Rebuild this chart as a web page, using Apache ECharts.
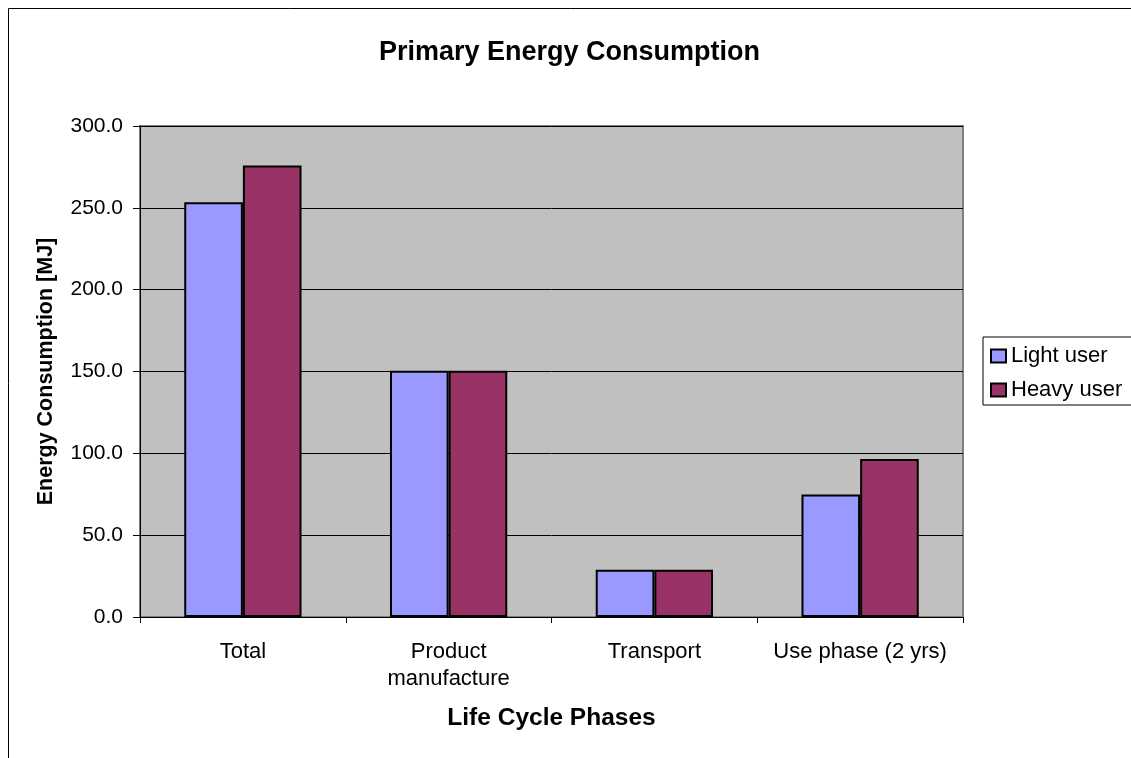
<!DOCTYPE html>
<html>
<head>
<meta charset="utf-8">
<script src="https://cdn.jsdelivr.net/npm/echarts@6/dist/echarts.min.js"></script>
<style>
  html, body { margin: 0; padding: 0; background: #fff; }
  #chart { width: 1131px; height: 758px; }
</style>
</head>
<body>
<div id="chart"></div>
<script>
var phases = ["Total", "Product\nmanufacture", "Transport", "Use phase (2 yrs)"];
var lightUser = [253.4, 150.5, 28.8, 74.8];
var heavyUser = [275.8, 150.5, 28.8, 96.6];
var seriesNames = ["Light user", "Heavy user"];

var chart = echarts.init(document.getElementById("chart"));
var font = "Liberation Sans, Arial, sans-serif";

chart.setOption({
  animation: false,
  backgroundColor: "#fff",
  textStyle: { fontFamily: font },
  graphic: [
    {
      // outer chart frame (cut off at right and bottom)
      type: "rect",
      shape: { x: 8.5, y: 8.5, width: 1200, height: 800 },
      style: { fill: "none", stroke: "#000", lineWidth: 1 },
      silent: true
    }
  ],
  title: {
    text: "Primary Energy Consumption",
    left: 379,
    top: 39,
    padding: 0,
    textStyle: { fontFamily: font, fontSize: 27, fontWeight: "bold", color: "#000" }
  },
  grid: {
    left: 140,
    right: 168,
    top: 126,
    bottom: 141,
    show: true,
    backgroundColor: "#c0c0c0",
    borderColor: "#808080",
    borderWidth: 2
  },
  legend: {
    data: seriesNames,
    orient: "vertical",
    left: 983,
    top: 337,
    itemWidth: 15,
    itemHeight: 13,
    itemGap: 12,
    padding: [8, 10, 4, 7],
    backgroundColor: "#fff",
    borderColor: "#000",
    borderWidth: 1,
    icon: "rect",
    textStyle: { fontFamily: font, fontSize: 22, lineHeight: 22, color: "#000" }
  },
  xAxis: {
    type: "category",
    data: phases,
    name: "Life Cycle Phases",
    nameLocation: "middle",
    nameGap: 89,
    nameTextStyle: { fontFamily: font, fontSize: 24.5, fontWeight: "bold", color: "#000" },
    axisLine: { lineStyle: { color: "#000", width: 1 } },
    axisTick: { show: true, interval: 0, length: 6, lineStyle: { color: "#000" } },
    axisLabel: { interval: 0, fontFamily: font, fontSize: 22, color: "#000", margin: 21, lineHeight: 27 }
  },
  yAxis: {
    type: "value",
    min: 0,
    max: 300,
    interval: 50,
    name: "Energy Consumption [MJ]",
    nameLocation: "middle",
    nameGap: 83,
    nameTextStyle: { fontFamily: font, fontSize: 21.5, fontWeight: "bold", color: "#000" },
    axisLine: { show: true, lineStyle: { color: "#000", width: 1 } },
    axisTick: { show: true, length: 7, lineStyle: { color: "#000" } },
    axisLabel: {
      fontFamily: font, fontSize: 21, color: "#000", margin: 17,
      formatter: function (v) { return v.toFixed(1); }
    },
    splitLine: { lineStyle: { color: "#000", width: 1 } }
  },
  series: [
    {
      name: seriesNames[0],
      type: "bar",
      data: lightUser,
      barGap: "0%",
      barCategoryGap: "43%",
      itemStyle: { color: "#9999ff", borderColor: "#000", borderWidth: 2 }
    },
    {
      name: seriesNames[1],
      type: "bar",
      data: heavyUser,
      itemStyle: { color: "#993366", borderColor: "#000", borderWidth: 2 }
    }
  ]
});
</script>
</body>
</html>
